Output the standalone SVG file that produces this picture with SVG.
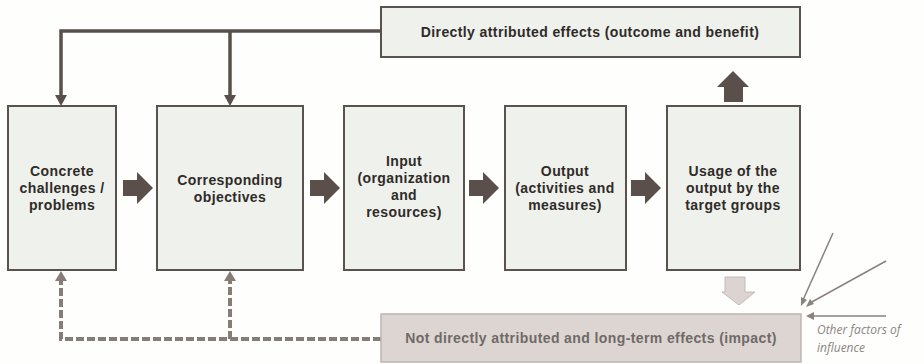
<svg xmlns="http://www.w3.org/2000/svg" width="924" height="364" viewBox="0 0 924 364">
<style>
.box{fill:#eef1ec;stroke:#5a524e;stroke-width:2}
.t{font-family:"Liberation Sans",Arial,sans-serif;font-size:14px;font-weight:bold;fill:#302b29;text-anchor:middle;letter-spacing:0.4px}
.blk{fill:#5a4f4a}
.conn{fill:none;stroke:#5a4f4a;stroke-width:3.5}
.dash{fill:none;stroke:#867d79;stroke-width:4;stroke-dasharray:8 3}
.thin{fill:none;stroke:#8b827d;stroke-width:1.5}
</style>
<rect width="924" height="364" fill="#fefefd"/>
<g id="connectors">
<path class="conn" d="M381,31 H61 V96 M230,31 V96"/>
<polygon class="blk" points="55,95 67,95 61,106"/>
<polygon class="blk" points="224,95 236,95 230,106"/>
<path class="dash" d="M381,339 H61 V280 M230,339 V280"/>
<polygon fill="#867d79" points="55,281 67,281 61,271"/>
<polygon fill="#867d79" points="224,281 236,281 230,271"/>
<polygon class="blk" points="123,180 137,180 137,172 153,188 137,204 137,196 123,196"/>
<polygon class="blk" points="310,180 324,180 324,172 340,188 324,204 324,196 310,196"/>
<polygon class="blk" points="469,180 483,180 483,172 499,188 483,204 483,196 469,196"/>
<polygon class="blk" points="631,180 645,180 645,172 661,188 645,204 645,196 631,196"/>
<polygon class="blk" points="724,102 743,102 743,87 749,87 733,71 717,87 724,87"/>
<polygon fill="#dcd4d0" stroke="#c2bab6" stroke-width="1" points="725,277 745,277 745,292 755,292 739,305 722,292 725,292"/>
<path class="thin" d="M833,233 L803,300 M886,261 L810,303 M886,316 L812,316"/>
<polygon fill="#8b827d" points="801,306 801,297 807,300"/>
<polygon fill="#8b827d" points="806,307 810,299 814,304"/>
<polygon fill="#8b827d" points="806,316 814,312 814,320"/>
</g>
<g id="n-top">
<rect class="box" x="381" y="7" width="419" height="50"/>
<text class="t" x="590" y="37">Directly attributed effects (outcome and benefit)</text>
</g>
<g id="n-challenges">
<rect class="box" x="8" y="106" width="108" height="164"/>
<text class="t" x="62" y="176">Concrete</text>
<text class="t" x="62" y="193">challenges /</text>
<text class="t" x="62" y="210">problems</text>
</g>
<g id="n-objectives">
<rect class="box" x="157" y="106" width="146" height="164"/>
<text class="t" x="230" y="185">Corresponding</text>
<text class="t" x="230" y="202">objectives</text>
</g>
<g id="n-input">
<rect class="box" x="344" y="106" width="120" height="164"/>
<text class="t" x="404" y="166">Input</text>
<text class="t" x="404" y="183">(organization</text>
<text class="t" x="404" y="200">and</text>
<text class="t" x="404" y="217">resources)</text>
</g>
<g id="n-output">
<rect class="box" x="505" y="106" width="121" height="164"/>
<text class="t" x="565" y="176">Output</text>
<text class="t" x="565" y="193">(activities and</text>
<text class="t" x="565" y="210">measures)</text>
</g>
<g id="n-usage">
<rect class="box" x="667" y="106" width="133" height="164"/>
<text class="t" x="733" y="176">Usage of the</text>
<text class="t" x="733" y="193">output by the</text>
<text class="t" x="733" y="210">target groups</text>
</g>
<g id="n-impact">
<rect x="381" y="314" width="420" height="48" fill="#ddd5d1" stroke="#bdb5b1" stroke-width="1.5"/>
<text class="t" x="591" y="343" style="fill:#6f6a68">Not directly attributed and long-term effects (impact)</text>
</g>
<g id="n-other">
<text x="817" y="334" font-family="Open Sans, Liberation Sans, sans-serif" font-style="italic" font-size="12" fill="#8a8582">Other factors of</text>
<text x="817" y="352" font-family="Open Sans, Liberation Sans, sans-serif" font-style="italic" font-size="12" fill="#8a8582">influence</text>
</g>
</svg>
